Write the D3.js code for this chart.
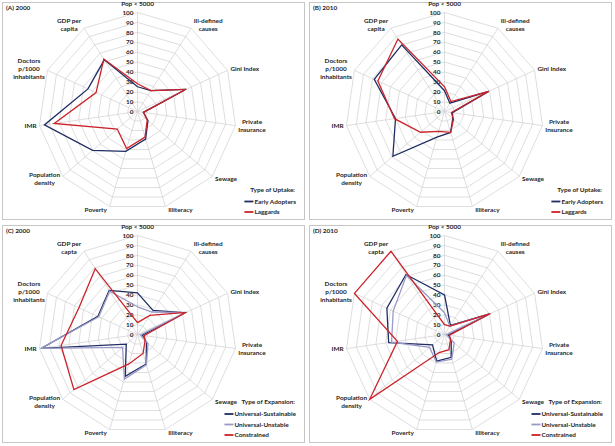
<!DOCTYPE html>
<html lang="en">
<head>
<meta charset="UTF-8">
<title>Radar charts - uptake and expansion</title>
<style>
  body { margin: 0; background: #fff; }
  svg text { font-family: Lato, "Liberation Sans", Arial, sans-serif; font-weight: bold; fill: #1e1e1e; }
</style>
</head>
<body>
<svg id="chart" width="615" height="446"></svg>
<script src="https://d3js.org/d3.v7.min.js"></script>
<script>

// axis labels (clockwise from the top), "\n" = line break
var axisLabelsAB = ["Pop < 5000", "Ill-defined\ncauses", "Gini Index", "Private\nInsurance", "Sewage", "Illiteracy",
    "Poverty", "Population\ndensity", "IMR", "Doctors\np/1000\ninhabitants", "GDP per\ncapita"]
var axisLabelsCD = ["Pop < 5000", "Ill-defined\ncauses", "Gini Index", "Private\nInsurance", "Sewage", "Illiteracy",
    "Poverty", "Population\ndensity", "IMR", "Doctors\np/1000\ninhabitants", "GDP per\ncapta"]
var tickValues = [0, 10, 20, 30, 40, 50, 60, 70, 80, 90, 100]

var panelTitles = ["(A) 2000", "(B) 2010", "(C) 2000", "(D) 2010"]
var legendTitles = ["Type of Uptake:", "Type of Uptake:", "Type of Expansion:", "Type of Expansion:"]
var uptakeNames = ["Early Adopters", "Laggards"]
var expansionNames = ["Universal-Sustainable", "Universal-Unstable", "Constrained"]

// (A) 2000
var earlyA = [25, 25, 54, 6, 14, 29, 42, 60, 95, 55, 62]
var laggardsA = [28, 25, 54, 6, 13, 27, 39, 27, 85, 46, 63]
// (B) 2010
var earlyB = [21, 10, 49, 8, 11, 22, 27, 69, 50, 78, 80]
var laggardsB = [25, 12, 49, 7, 12, 22, 21, 32, 51, 74, 87]
// (C) 2000
var sustainableC = [42, 29, 53, 5, 12, 31, 44, 15, 98, 44, 53]
var unstableC = [28, 27, 53, 3, 14, 32, 47, 20, 99, 43, 52]
var constrainedC = [12, 23, 54, 7, 10, 20, 31, 85, 78, 65, 79]
// (D) 2010
var sustainableD = [40, 11, 50, 4, 9, 24, 28, 16, 57, 64, 72]
var unstableD = [22, 10, 50, 2, 13, 26, 29, 20, 54, 57, 71]
var constrainedD = [10, 10, 51, 5, 8, 16, 19, 100, 48, 100, 100]

var navy = "#1f2d63", red = "#cc2229", lavender = "#9a9ac8"

var panels = [
    { title: panelTitles[0], legend: legendTitles[0], labels: axisLabelsAB, names: uptakeNames, series: [earlyA, laggardsA], colors: [navy, red] },
    { title: panelTitles[1], legend: legendTitles[1], labels: axisLabelsAB, names: uptakeNames, series: [earlyB, laggardsB], colors: [navy, red] },
    { title: panelTitles[2], legend: legendTitles[2], labels: axisLabelsCD, names: expansionNames, series: [sustainableC, unstableC, constrainedC], colors: [navy, lavender, red] },
    { title: panelTitles[3], legend: legendTitles[3], labels: axisLabelsCD, names: expansionNames, series: [sustainableD, unstableD, constrainedD], colors: [navy, lavender, red] }
]

var svg = d3.select("#chart")
var boxW = 302, boxH = 217
var boxX = [2, 309], boxY = [2, 225]
var R = 99
var fs = "6.4px"
var n = axisLabelsAB.length
var angle = function (i) { return i * 2 * Math.PI / n }
var r = d3.scaleLinear().domain([0, 100]).range([0, R])

panels.forEach(function (p, k) {
    var bx = boxX[k % 2], by = boxY[Math.floor(k / 2)]
    var g = svg.append("g").attr("transform", "translate(" + bx + "," + by + ")")

    g.append("rect")
        .attr("x", 0.5).attr("y", 0.5)
        .attr("width", boxW).attr("height", boxH)
        .attr("fill", "#fff").attr("stroke", "#c6c6c6")

    g.append("text").attr("x", 4).attr("y", 8)
        .style("font-size", fs).text(p.title)

    var c = g.append("g").attr("transform", "translate(" + 135.5 + "," + 109.5 + ")")

    // web rings
    var ring = d3.lineRadial()
        .angle(function (d, i) { return angle(i) })
        .radius(function (d) { return r(d) })
        .curve(d3.curveLinearClosed)

    c.selectAll(".ring")
        .data(tickValues.slice(1))
        .enter()
        .append("path")
        .attr("d", function (v) { return ring(d3.range(n).map(function () { return v })) })
        .attr("fill", "none")
        .attr("stroke", "#d0d0d0")
        .attr("stroke-width", 0.7)

    // spokes
    c.selectAll(".spoke")
        .data(d3.range(n))
        .enter()
        .append("line")
        .attr("x1", 0).attr("y1", 0)
        .attr("x2", function (i) { return r(100) * Math.sin(angle(i)) })
        .attr("y2", function (i) { return -r(100) * Math.cos(angle(i)) })
        .attr("stroke", "#d0d0d0")
        .attr("stroke-width", 0.7)

    // tick labels on the top axis
    c.selectAll(".tick")
        .data(tickValues)
        .enter()
        .append("text")
        .attr("x", -4)
        .attr("y", function (v) { return -r(v) })
        .attr("dy", "0.35em")
        .attr("text-anchor", "end")
        .style("font-size", fs)
        .text(function (v) { return v })

    // axis labels
    p.labels.forEach(function (lab, i) {
        var a = angle(i), sx = Math.sin(a), sy = -Math.cos(a)
        var vx = r(100) * sx, vy = r(100) * sy
        var lines = lab.split("\n")
        var t = c.append("text").attr("text-anchor", "middle").style("font-size", fs)
        lines.forEach(function (l, j) {
            t.append("tspan").attr("x", 0).attr("dy", j === 0 ? 0 : 7.8).text(l)
        })
        var bb = t.node().getBBox()
        var hw = bb.width / 2, hh = (lines.length - 1) * 7.8 / 2
        var cx, cy
        if (Math.abs(sx) < 0.1) {
            cx = vx
            cy = vy - 9
        } else {
            cx = vx + Math.sign(sx) * (hw + 2.5)
            cy = vy + sy * 4
        }
        t.attr("transform", "translate(" + cx + "," + (cy - hh + 2) + ")")
    })

    // series
    var line = d3.lineRadial()
        .angle(function (d, i) { return angle(i) })
        .radius(function (d) { return r(d) })
        .curve(d3.curveLinearClosed)

    p.series.forEach(function (s, j) {
        c.append("path")
            .attr("d", line(s))
            .attr("fill", "none")
            .attr("stroke", p.colors[j])
            .attr("stroke-width", 1.3)
            .attr("stroke-linejoin", "miter")
    })

    // legend
    var right = boxW - 8
    var lg = g.append("g")
    var widths = p.names.map(function (nm) {
        var tt = lg.append("text").style("font-size", fs).text(nm)
        var w = tt.node().getComputedTextLength()
        tt.remove()
        return w
    })
    var lx = right - d3.max(widths)
    var m = p.names.length
    var itemY = function (j) { return boxH - 7 - (m - 1 - j) * 10.5 }
    lg.append("text").attr("x", right - 1).attr("y", itemY(0) - 12)
        .attr("dy", "0.35em").attr("text-anchor", "end")
        .style("font-size", fs).text(p.legend)
    p.names.forEach(function (nm, j) {
        lg.append("line")
            .attr("x1", lx - 10).attr("x2", lx - 1)
            .attr("y1", itemY(j)).attr("y2", itemY(j))
            .attr("stroke", p.colors[j]).attr("stroke-width", 1.8)
        lg.append("text").attr("x", lx).attr("y", itemY(j))
            .attr("dy", "0.35em").style("font-size", fs).text(nm)
    })
})
</script>
</body>
</html>
